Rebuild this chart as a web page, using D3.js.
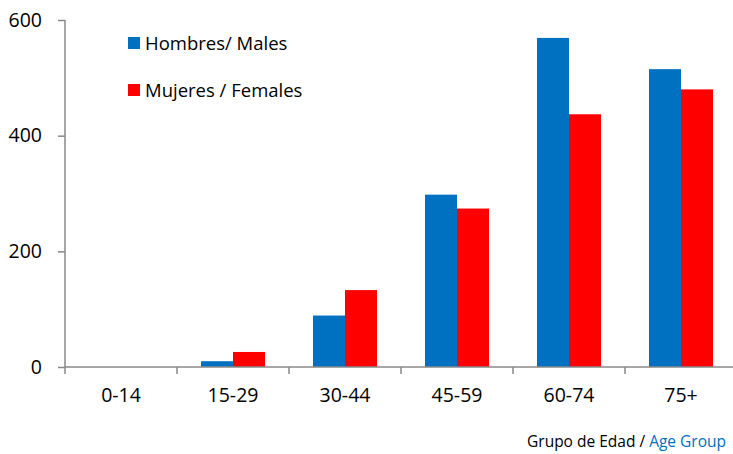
<!DOCTYPE html>
<html><head><meta charset="utf-8">
<script src="https://cdn.jsdelivr.net/npm/d3@7"></script>
<style>body{margin:0;background:#fff}svg{display:block}</style>
</head><body>
<script>
const categories = ["0-14","15-29","30-44","45-59","60-74","75+"];
const males = [0, 10, 89, 298, 569, 515];
const females = [0, 26, 133, 274, 437, 480];
const seriesNames = ["Hombres/ Males","Mujeres / Females"];
const yTicks = [0,200,400,600];

const W=733,H=454;
const font="'Open Sans', sans-serif";
const colors=["#0070C0","#FF0000"];
const svg=d3.select("body").append("svg").attr("width",W).attr("height",H);

const x0=d3.scaleBand().domain(categories).range([65,737]).padding(0);
const x1=d3.scaleBand().domain([0,1]).range([x0.bandwidth()*0.2143, x0.bandwidth()*0.7857]).padding(0);
const y=d3.scaleLinear().domain([0,600]).range([367,20]);

const data=categories.map((c,i)=>({c,vals:[males[i],females[i]]}));
const g=svg.append("g");
g.selectAll("g.grp").data(data).join("g").attr("transform",d=>`translate(${x0(d.c)},0)`)
 .selectAll("rect").data(d=>d.vals.map((v,k)=>({v,k}))).join("rect")
 .attr("x",d=>x1(d.k)).attr("width",x1.bandwidth())
 .attr("y",d=>y(d.v)).attr("height",d=>y(0)-y(d.v)).attr("fill",d=>colors[d.k]);

// y axis
const ya=svg.append("g").attr("transform","translate(65,0)")
 .call(d3.axisLeft(y).tickValues(yTicks).tickSize(7).tickPadding(16));
ya.select(".domain").attr("stroke","#888").attr("stroke-width",1.5).attr("d","M0,367V20");
ya.selectAll(".tick line").attr("stroke","#888").attr("stroke-width",1.5);
ya.selectAll(".tick text").attr("font-family",font).attr("font-size",19.5).attr("fill","#000");

// x axis
const xa=svg.append("g").attr("transform","translate(0,367)")
 .call(d3.axisBottom(x0).tickSize(0).tickPadding(21));
xa.select(".domain").attr("stroke","#888").attr("stroke-width",1.5).attr("d","M65,0H737");
xa.selectAll(".tick text").attr("font-family",font).attr("font-size",19.5).attr("fill","#000");
xa.selectAll(".sep").data(categories).join("line").attr("class","sep")
 .attr("x1",d=>x0(d)).attr("x2",d=>x0(d)).attr("y1",0).attr("y2",7)
 .attr("stroke","#888").attr("stroke-width",1.5);

// legend
const lg=svg.append("g");
seriesNames.forEach((n,i)=>{
  const yy=37+i*47;
  lg.append("rect").attr("x",128).attr("y",yy).attr("width",12).attr("height",12).attr("fill",colors[i]);
  lg.append("text").attr("x",145).attr("y",yy+12.5).attr("font-family",font).attr("font-size",18.5).attr("fill","#000").text(n);
});

// axis title
const t=svg.append("text").attr("x",726).attr("y",447).attr("text-anchor","end")
 .attr("font-family",font).attr("font-size",15.5);
t.append("tspan").attr("fill","#000").text("Grupo de Edad / ");
t.append("tspan").attr("fill","#0070C0").text("Age Group");
</script>
</body></html>
